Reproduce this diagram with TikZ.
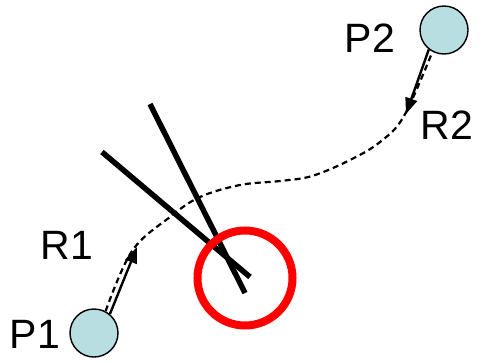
\documentclass[tikz,border=0pt]{standalone}
\usepackage{fontspec}
\setmainfont{Liberation Sans}
\usetikzlibrary{arrows.meta}
\definecolor{ballfill}{RGB}{184,222,225}
\tikzset{
  ball/.style={circle, draw=black, line width=1.4pt, fill=ballfill, minimum size=48pt, inner sep=0pt},
  tag/.style={inner sep=0pt, font=\fontsize{41pt}{41pt}\selectfont},
  stick/.style={line width=5.5pt, black},
  motion/.style={line width=2.4pt, -{Triangle[length=16pt,width=12pt]}},
  track/.style={line width=2.2pt, dash pattern=on 6pt off 4pt},
  ring/.style={draw=red, line width=8pt}
}
\begin{document}
\begin{tikzpicture}[x=1pt,y=-1pt]
  \useasboundingbox (0,0) rectangle (482,362);

  % particles and their labels
  \node[ball] (p1) at (94,333) {};
  \node[ball] (p2) at (444,30) {};
  \node[tag] (p1lbl) at (35,334) {P1};
  \node[tag] (p2lbl) at (370,38) {P2};
  \node[tag] (r1lbl) at (67,245) {R1};
  \node[tag] (r2lbl) at (447,125) {R2};

  % arrow tips
  \coordinate (r1tip) at (137,247);
  \coordinate (r2tip) at (406,114);

  % dashed trajectory between the particles
  \draw[track] plot[smooth, tension=0.6] coordinates {
    (p1.62) (132,251) (170,217) (200,197) (240,185) (280,181)
    (312,176) (350,160) (380,142) (404,116) (p2.-118)};

  % motion arrows
  \draw[motion] (p1.50) -- (r1tip);
  \draw[motion] (p2.-128) -- (r2tip);

  % crossing sticks
  \draw[stick] (102,152) -- (250,277);
  \draw[stick] (150,104) -- (245,293);

  % red ring at the crossing
  \node[circle, ring, minimum size=95pt, inner sep=0pt] (ringnode) at (245,278) {};
\end{tikzpicture}
\end{document}
